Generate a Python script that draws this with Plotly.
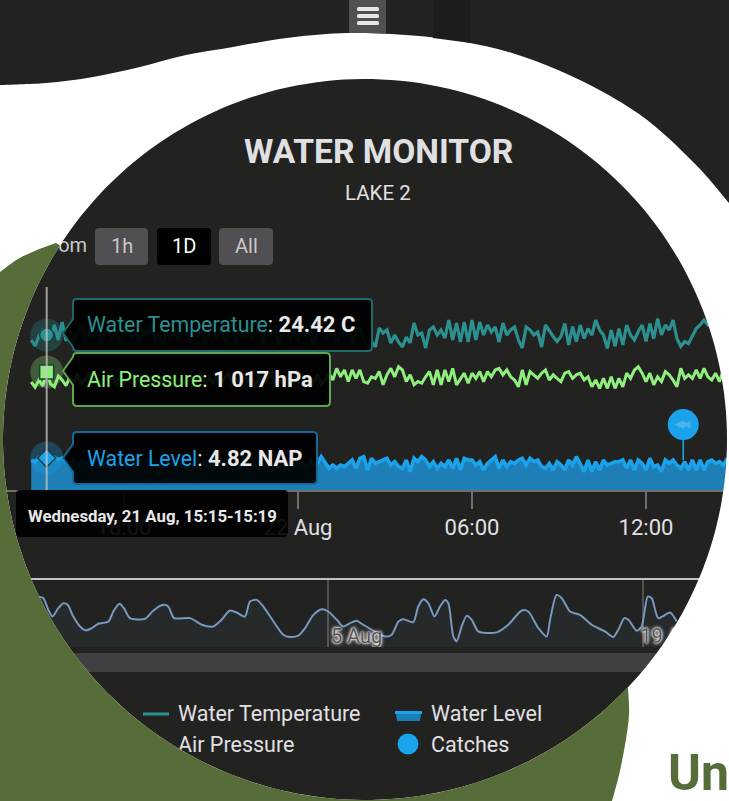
import numpy as np
import pandas as pd
import plotly.graph_objects as go

# ---------- data ----------
TITLE = "WATER MONITOR"
SUBTITLE = "LAKE 2"
series_start = "2024-08-21 14:48"
step = "8min"
tick_vals = ["2024-08-21 18:00", "2024-08-22 00:00", "2024-08-22 06:00", "2024-08-22 12:00"]
tick_text = ["18:00", "22 Aug", "06:00", "12:00"]

water_temperature = [
    24.32, 24.20, 24.40, 24.52, 24.42, 24.32, 24.62, 24.32, 24.68,
    24.30, 24.55, 24.25, 24.48, 24.60, 24.28, 24.50, 24.35, 24.62, 24.22, 24.45,
    24.58, 24.30, 24.52, 24.24, 24.42, 24.64, 24.36, 24.50, 24.26, 24.56, 24.40,
    24.62, 24.28, 24.46, 24.20, 24.52, 24.34, 24.60, 24.30, 24.44, 24.66, 24.26,
    24.50, 24.38, 24.58, 24.22, 24.48, 24.62, 24.32, 24.54, 24.28, 24.42, 24.60,
    24.24, 24.50, 24.36, 24.64, 24.30, 24.46, 24.56, 24.26, 24.52, 24.40, 24.62,
    24.20, 24.44, 24.58, 24.34, 24.50, 24.28, 24.60, 24.38, 24.54, 24.22, 24.48,
    24.64, 24.30, 24.42, 24.56, 24.26, 24.52, 24.36, 24.60, 24.24, 24.46, 24.58,
    24.32, 24.18, 24.30,
    24.18, 24.56, 24.46, 24.52, 24.26, 24.42, 24.28, 24.18, 24.38, 24.26, 24.66,
    24.42, 24.46, 24.16, 24.52, 24.58, 24.42, 24.52, 24.36, 24.72, 24.32, 24.66,
    24.28, 24.68, 24.28, 24.72, 24.32, 24.68, 24.42, 24.62, 24.48, 24.58, 24.28,
    24.66, 24.42, 24.52, 24.58, 24.32, 24.16, 24.58, 24.52, 24.42, 24.48, 24.18,
    24.62, 24.49, 24.39, 24.29, 24.39, 24.65, 24.22, 24.59, 24.29, 24.62, 24.35,
    24.55, 24.42, 24.72, 24.52, 24.42, 24.15, 24.52, 24.19, 24.55, 24.22, 24.62,
    24.42, 24.32, 24.49, 24.62, 24.29, 24.65, 24.35, 24.75, 24.42, 24.62, 24.52,
    24.72, 24.35, 24.19, 24.29, 24.25, 24.39, 24.55, 24.62, 24.72, 24.62, 24.69,
    24.52, 24.15, 24.52, 24.12, 24.35, 24.15, 24.52, 24.69,
]

air_pressure = [
    1014.5, 1013.2, 1015.0, 1013.5, 1017.0, 1014.0, 1013.3, 1016.0, 1015.0,
    1013.6, 1015.8, 1014.2, 1016.6, 1013.8, 1015.2, 1016.9, 1014.0, 1015.5, 1013.4,
    1016.2, 1014.6, 1015.9, 1013.7, 1016.8, 1014.4, 1015.0, 1016.4, 1013.9, 1015.6,
    1014.1, 1016.7, 1013.5, 1015.3, 1016.1, 1014.3, 1015.7, 1013.6, 1016.5, 1014.8,
    1015.1, 1013.8, 1016.3, 1014.5, 1015.9, 1016.8, 1013.7, 1015.4, 1014.2, 1016.0,
    1013.9, 1015.6, 1016.6, 1014.1, 1015.2, 1013.5, 1016.4, 1014.7, 1015.8, 1013.6,
    1016.2, 1014.4, 1015.0, 1016.9, 1013.8, 1015.5, 1014.0, 1016.1, 1013.4, 1015.7,
    1014.6, 1016.5, 1013.7, 1015.3, 1014.2, 1016.3, 1013.9, 1015.1, 1016.7,
    1015.0, 1017.9, 1015.8, 1017.5, 1014.6, 1017.5, 1015.4, 1017.5, 1014.6, 1014.2,
    1015.8, 1015.4, 1017.1, 1013.8, 1016.3, 1017.9, 1015.8, 1018.3, 1017.5, 1014.6,
    1016.3, 1013.8, 1014.6, 1014.2, 1015.8, 1017.1, 1013.8, 1017.5, 1013.8, 1017.5,
    1014.6, 1017.9, 1013.8, 1015.4, 1016.7, 1014.2, 1016.7, 1015.4, 1017.1, 1014.6,
    1017.1, 1015.8, 1017.5, 1017.9, 1016.3, 1017.5, 1015.8, 1015.0, 1013.3, 1017.5,
    1013.8, 1017.1, 1016.3, 1015.4, 1016.7,
    1017.5, 1015.0, 1016.3, 1015.4, 1014.6, 1016.7, 1017.1, 1015.4, 1016.3, 1016.7,
    1015.0, 1015.8, 1013.3, 1015.0, 1012.9, 1015.4, 1012.9, 1015.8, 1012.9, 1015.4,
    1013.3, 1016.7, 1015.4, 1017.5, 1018.3, 1016.7, 1014.6, 1016.7, 1013.8, 1015.8,
    1014.6, 1017.1, 1016.3, 1015.0, 1013.3, 1017.9, 1015.4, 1016.3, 1015.4, 1017.5,
    1015.4, 1017.9, 1015.8, 1015.0, 1016.7, 1014.6, 1017.5, 1015.4, 1016.3, 1017.9,
    1015.0, 1016.7, 1015.4, 1014.6, 1013.8, 1016.7, 1014.6, 1015.4,
]

water_level = [
    4.52, 4.20, 4.90, 4.70, 4.82, 4.50, 4.90, 4.60, 4.80,
    4.10, 3.60, 4.40, 3.30, 4.70, 3.90, 4.20, 3.50, 4.80, 3.70, 4.50,
    3.20, 4.30, 3.80, 4.90, 3.40, 4.10, 4.60, 3.60, 4.40, 3.10, 4.70,
    3.90, 4.30, 3.50, 4.80, 3.70, 4.20, 3.30, 4.50, 3.80, 4.90, 3.40,
    4.00, 4.60, 3.60, 4.30, 3.20, 4.70, 3.90, 4.40, 3.50, 4.80, 3.70,
    4.10, 3.30, 4.50, 3.80, 4.60, 3.40, 4.20, 4.90, 3.60, 4.30, 3.10,
    4.70, 3.90, 4.40, 3.50, 4.80, 3.70, 4.20, 3.30, 4.50, 3.80, 4.00,
    5.02, 4.01, 3.26, 3.76, 3.26, 3.76, 3.51, 4.01, 4.52, 3.26, 4.77,
    5.02, 3.01, 4.77, 4.01, 4.26, 4.52, 4.77, 3.76, 4.26, 3.51, 3.26,
    4.52, 2.76, 4.77, 4.26, 5.02, 4.52, 3.51, 4.26, 3.26, 4.01, 3.51,
    4.52, 3.26, 4.77, 3.01, 4.77, 4.52, 4.52, 3.76, 4.26, 3.01, 4.01,
    4.52, 5.02, 3.26, 4.52, 3.51, 4.26, 4.01,
    4.52, 4.77, 3.76, 4.77, 4.26, 4.52, 3.51, 3.26, 4.01, 3.01, 4.26,
    3.76, 3.01, 4.52, 3.76, 5.02, 4.01, 2.76, 4.52, 2.76, 4.26, 3.01,
    4.52, 3.76, 4.01, 4.26, 4.26, 4.52, 3.26, 4.52, 3.01, 4.52, 4.01,
    3.01, 4.77, 3.51, 3.76, 2.76, 4.52, 4.01, 4.52, 3.76, 3.26, 4.26,
    3.01, 4.52, 3.01, 4.52, 3.01, 4.26, 4.52, 4.01, 4.26, 3.76, 4.77,
]

catch_time = ["2024-08-22 13:17"]
catch_level = [4.52]
catch_flag = [9.85]

nav_origin = "2024-08-05"
nav_days = [
    -12.87, -12.65, -12.43, -12.24, -11.99, -11.76, -11.57, -11.32, -11.02, -10.76, -10.50,
    -10.21, -9.76, -9.54, -9.27, -9.07, -8.80, -8.13, -7.76, -7.32, -7.10, -6.84, -6.13,
    -5.61, -5.10, -4.73, -4.36, -4.06, -3.69, -3.47, -3.17, -2.87, -1.99, -1.69, -1.32,
    -1.02, -0.65, -0.28, 0.01, 0.39, 0.68, 0.98, 1.27, 1.57,
    2.53, 2.83, 3.13, 3.35, 3.79, 4.01, 4.24, 4.46, 4.73, 4.98, 5.20, 5.35, 5.57, 5.72,
    5.94, 6.16, 6.39, 6.68, 7.50, 8.01, 8.61, 8.90, 9.35, 9.72, 9.87, 10.16, 10.39, 10.76,
    11.20, 11.72, 12.31, 12.68, 12.90, 13.17, 13.35, 13.72, 13.94, 14.21, 14.39, 14.68,
    15.20, 15.50,
]
nav_values = [
    24.52, 24.28, 22.54, 21.55, 22.79, 23.53, 23.29, 21.55, 20.07, 19.48, 19.82,
    20.47, 20.81, 22.30, 23.44, 22.79, 21.31, 21.21, 22.45, 23.29, 23.04, 21.31, 21.31,
    20.32, 20.07, 21.06, 22.45, 22.15, 21.55, 23.78, 24.03, 23.04, 18.83, 18.49, 18.68,
    19.82, 21.80, 22.64, 22.30, 21.06, 20.07, 20.56, 20.91, 20.32,
    18.58, 18.83, 20.81, 21.16, 20.71, 23.04, 24.13, 23.53, 21.55, 23.04, 24.03, 23.53, 18.58, 17.84,
    20.07, 21.65, 21.06, 19.33, 19.18, 20.32, 22.45, 22.30, 19.82, 18.58, 21.06, 24.77, 24.28, 22.30,
    21.80, 20.32, 19.33, 18.49, 19.57, 21.31, 21.06, 19.43, 20.07, 24.52, 24.28, 21.31,
    22.15, 20.81,
]
nav_ticks = ["2024-08-05", "2024-08-19"]
nav_tick_text = ["5 Aug", "19 Aug"]

# ---------- style ----------
W, H = 729, 801
DARK = "#222220"
GREEN = "#566d3a"
TEAL = "#2b908f"
LIME = "#90ee7e"
BLUE = "#1aa3ea"
BLUE_FILL = "#1d7fb5"
TEXT = "#e0e0e3"
FONT = "Roboto"
CX, CY, RX, RY = 365.0, 439.5, 362.0, 360.5


def ydom(top, bottom):
    return [1 - bottom / H, 1 - top / H]


def smooth(pts):
    """Catmull-Rom through the outline points, as an SVG path fragment."""
    out = f"L{pts[0][0]},{pts[0][1]}"
    for i in range(len(pts) - 1):
        p0 = pts[max(i - 1, 0)]
        p1, p2 = pts[i], pts[i + 1]
        p3 = pts[min(i + 2, len(pts) - 1)]
        c1 = (p1[0] + (p2[0] - p0[0]) / 6, p1[1] + (p2[1] - p0[1]) / 6)
        c2 = (p2[0] - (p3[0] - p1[0]) / 6, p2[1] - (p3[1] - p1[1]) / 6)
        out += f" C{c1[0]:.1f},{c1[1]:.1f} {c2[0]:.1f},{c2[1]:.1f} {p2[0]},{p2[1]}"
    return out


def arc(a0, a1, n=160):
    a = np.radians(np.linspace(a0, a1, n))
    return " ".join(f"L{CX + RX * np.cos(t):.1f},{CY + RY * np.sin(t):.1f}" for t in a)


def ang(x, y):
    return np.degrees(np.arctan2((y - CY) / RY, (x - CX) / RX)) % 360


def box(x0, y0, x1, y1, r=4):
    return (f"M{x0 + r},{y0} L{x1 - r},{y0} Q{x1},{y0} {x1},{y0 + r} L{x1},{y1 - r} Q{x1},{y1} {x1 - r},{y1} "
            f"L{x0 + r},{y1} Q{x0},{y1} {x0},{y1 - r} L{x0},{y0 + r} Q{x0},{y0} {x0 + r},{y0} Z")


def tip_box(x0, y0, x1, y1, tx, ty, r=4):
    return (f"M{x0 + r},{y0} L{x1 - r},{y0} Q{x1},{y0} {x1},{y0 + r} L{x1},{y1 - r} Q{x1},{y1} {x1 - r},{y1} "
            f"L{x0 + r},{y1} Q{x0},{y1} {x0},{y1 - r} L{x0},{ty + 14} L{tx},{ty} L{x0},{ty - 14} "
            f"L{x0},{y0 + r} Q{x0},{y0} {x0 + r},{y0} Z")


shapes = []


def add(path, fill, line=None, lw=0):
    shapes.append(dict(type="path", path=path, xref="x3", yref="y5", layer="above",
                       fillcolor=fill, line=dict(color=line or "rgba(0,0,0,0)", width=lw)))


# scrollbar and legend keys sit under the mask
add(f"M0,653 L{W},653 L{W},672 L0,672 Z", "#404043")
add("M143,712.5 L169,712.5 L169,715.5 L143,715.5 Z", TEAL)
add("M143,743.5 L169,743.5 L169,746.5 L143,746.5 Z", LIME)
add("M395,711 L422,711 L422,714 L395,714 Z", BLUE)
add("M396,714 L421,714 L420,721 L397,721 Z", BLUE_FILL)

# page around the circular chart (white sheet with a hole)
ring = f"M0,0 L{W},0 L{W},{H} L0,{H} Z M{CX + RX},{CY} " + arc(360, 0, 240) + " Z"
add(ring, "#ffffff")

# green blob behind the circle
gA, gB = ang(56, 243), ang(628, 688)
green = ("M0,272 " + smooth([(0, 272), (18, 259), (37, 250), (56, 243)]) + " " + arc(gA, gB, 160) + " "
         + smooth([(628, 688), (629, 715), (625, 745), (619, 775), (612, 801)]) + f" L0,{H} Z")
add(green, GREEN)

# dark wave at the top
wave = [(0, 85), (46, 83), (93, 77), (140, 67), (186, 55), (233, 47), (279, 39), (326, 34), (365, 33),
        (419, 36), (465, 42), (512, 53), (558, 70), (605, 93), (651, 123), (698, 167), (729, 203)]
add("M0,0 L729,0 L729,203 " + smooth(wave[::-1]) + " Z", DARK)
add("M433,0 L471,0 L471,43 L433,38 Z", "#1c1c1a")
add("M349,0 L386,0 L386,33 L349,33 Z", "#505053")
for yb in (9, 16, 23):
    add(box(357, yb - 2, 379, yb + 2, 1.5), "#e6e6e6")

# range buttons
add(box(95, 228, 148, 265), "#505053")
add(box(157, 228, 211, 265), "#000000")
add(box(219, 228, 273, 265), "#505053")

# tooltips
hover_time = "2024-08-21 15:20"
shapes.append(dict(type="line", xref="x", yref="y5", x0=hover_time, x1=hover_time,
                   y0=287, y1=490, layer="above", line=dict(color="rgba(200,200,200,0.75)", width=2)))
add(tip_box(73, 299, 372, 351, 63, 333), "rgba(0,0,0,0.93)", "#1e6a6a", 2)
add(tip_box(73, 353, 330, 406, 63, 371), "rgba(0,0,0,0.93)", "#5fa652", 2)
add(tip_box(73, 432, 317, 484, 63, 458), "rgba(0,0,0,0.93)", "#14699a", 2)
add(box(16, 490, 288, 537), "rgba(0,0,0,0.92)")


def note(x, y, text, size=21, color=TEXT, anchor="left", bold=False):
    t = f"<b>{text}</b>" if bold else text
    return dict(x=x, y=y, xref="x3", yref="y5", text=t, showarrow=False, xanchor=anchor, yanchor="middle",
                font=dict(family=FONT, size=size, color=color), borderpad=0)


def tip_text(y, label, col, value):
    return note(86, y, f'<span style="color:{col};font-size:21.3px">{label}</span>: <b>{value}</b>', 22, "#e8e8e8")


annotations = [
    note(378, 151, TITLE, 33.6, TEXT, "center", True),
    note(378, 193, SUBTITLE, 20.5, TEXT, "center"),
    note(121.5, 246, "1h", 20, "#c8c8cc", "center"),
    note(184, 246, "1D", 20, "#ffffff", "center"),
    note(246, 246, "All", 20, "#c8c8cc", "center"),
    tip_text(324, "Water Temperature", TEAL, "24.42 C"),
    tip_text(379, "Air Pressure", LIME, "1 017 hPa"),
    tip_text(458, "Water Level", BLUE, "4.82 NAP"),
    note(152, 516, "Wednesday, 21 Aug, 15:15-15:19", 16.8, "#e8e8e8", "center", True),
    note(667, 773, "Un", 50, GREEN, "left", True),
]

# ---------- traces ----------
fig = go.Figure()
t = pd.date_range(series_start, periods=max(len(water_temperature), len(air_pressure), len(water_level)), freq=step)
hover = t[4]

fig.add_trace(go.Scatter(x=t[:len(water_temperature)], y=water_temperature, name="Water Temperature", mode="lines",
                         line=dict(color=TEAL, width=3.2), xaxis="x", yaxis="y"))
fig.add_trace(go.Scatter(x=t[:len(air_pressure)], y=air_pressure, name="Air Pressure", mode="lines",
                         line=dict(color=LIME, width=3), xaxis="x", yaxis="y2"))
fig.add_trace(go.Scatter(x=t[:len(water_level)], y=water_level, name="Water Level", mode="lines", fill="tozeroy",
                         fillcolor=BLUE_FILL, line=dict(color=BLUE, width=3.6), xaxis="x", yaxis="y3"))

# hover markers with halos
for yvals, ax, col, sym, size in [(water_temperature, "y", TEAL, "circle", 14),
                                  (air_pressure, "y2", LIME, "square", 14),
                                  (water_level, "y3", BLUE, "diamond", 14)]:
    fig.add_trace(go.Scatter(x=[hover], y=[yvals[4]], mode="markers", xaxis="x", yaxis=ax, showlegend=False,
                             marker=dict(size=33, color=col, opacity=0.28)))
    fig.add_trace(go.Scatter(x=[hover], y=[yvals[4]], mode="markers", xaxis="x", yaxis=ax, showlegend=False,
                             marker=dict(size=size, color=col, symbol=sym, line=dict(color="#1f3f3f", width=1.5))))

# catches flag
flag_t = pd.to_datetime(catch_time)
fig.add_trace(go.Scatter(x=[flag_t[0], flag_t[0]], y=[catch_level[0], catch_flag[0]], mode="lines", name="Catches",
                         line=dict(color=BLUE, width=1.6), xaxis="x", yaxis="y3"))
fig.add_trace(go.Scatter(x=flag_t, y=catch_flag, mode="markers", showlegend=False, xaxis="x", yaxis="y3",
                         marker=dict(size=31, color=BLUE)))
fig.add_trace(go.Scatter(x=flag_t - pd.Timedelta(minutes=2), y=catch_flag, mode="markers", showlegend=False,
                         xaxis="x", yaxis="y3", marker=dict(size=11, color="#4fb3ec", symbol="diamond-wide")))
fig.add_trace(go.Scatter(x=flag_t + pd.Timedelta(minutes=11), y=catch_flag, mode="markers", showlegend=False,
                         xaxis="x", yaxis="y3", marker=dict(size=7, color="#4fb3ec", symbol="triangle-left")))

# navigator
nav_t = pd.Timestamp(nav_origin) + pd.to_timedelta(nav_days, unit="D")
fig.add_trace(go.Scatter(x=nav_t, y=nav_values, mode="lines", fill="tozeroy", name="Navigator",
                         fillcolor="rgba(119,152,191,0.07)", line=dict(color="#7798BF", width=2, shape="spline", smoothing=0.7),
                         xaxis="x2", yaxis="y4"))
fig.add_trace(go.Scatter(x=pd.to_datetime(nav_ticks) + pd.Timedelta(days=1.27), y=[18.4, 18.4], mode="text", text=nav_tick_text,
                         showlegend=False, textposition="middle center", xaxis="x2", yaxis="y4",
                         textfont=dict(family=FONT, size=20, color="#555555",
                                       shadow="0 0 2px #ffffff, 0 0 3px #ffffff, 0 0 4px #ffffff")))


# page-space text that the circle clips: drawn under the mask
def page_text(x, y, text, size=21.5, color=TEXT):
    fig.add_trace(go.Scatter(x=[x], y=[y], mode="text", text=[text], textposition="middle right", showlegend=False,
                             xaxis="x3", yaxis="y5", textfont=dict(family=FONT, size=size, color=color)))


page_text(35, 247, "Zoom", 20, "#c8c8cc")
page_text(178, 716, "Water Temperature")
page_text(178, 747, "Air Pressure")
page_text(431, 716, "Water Level")
page_text(431, 747, "Catches")
fig.add_trace(go.Scatter(x=[408], y=[744], mode="markers", showlegend=False, xaxis="x3", yaxis="y5",
                         marker=dict(size=21, color=BLUE)))

# ---------- layout ----------
hidden = dict(visible=False, fixedrange=True)
main_dom = ydom(290, 490)
fig.update_layout(
    width=W, height=H, autosize=False, margin=dict(l=0, r=0, t=0, b=0),
    paper_bgcolor=DARK, plot_bgcolor="rgba(0,0,0,0)", showlegend=False,
    font=dict(family=FONT, color=TEXT), hovermode=False, shapes=shapes, annotations=annotations,
    xaxis=dict(type="date", domain=[0, 1], range=["2024-08-21 13:43:25", "2024-08-22 14:51:43"], anchor="y",
               tickmode="array", tickvals=tick_vals, ticktext=tick_text, ticks="outside", ticklen=17, tickwidth=2,
               tickcolor="#707073", showline=True, linecolor="#707073", linewidth=2, showgrid=False, zeroline=False,
               tickfont=dict(family=FONT, size=22, color=TEXT)),
    yaxis=dict(domain=main_dom, range=[24.42 - (490 - 335) / 50, 24.42 + (335 - 290) / 50], **hidden),
    yaxis2=dict(domain=main_dom, overlaying="y", anchor="x", range=[1017 - (490 - 372) / 4, 1017 + (372 - 290) / 4], **hidden),
    yaxis3=dict(domain=main_dom, overlaying="y", anchor="x", range=[0, 200 / 6.64], **hidden),
    xaxis2=dict(type="date", domain=[0, 1], range=["2024-07-21 10:08", "2024-08-22 19:44"], anchor="y4", side="top",
                tickmode="array", tickvals=nav_ticks, ticktext=nav_tick_text, showticklabels=False, ticks="",
                showgrid=True, gridcolor="#505053", gridwidth=1.5, showline=True, linecolor="#c4c4c4", linewidth=2, zeroline=False),
    yaxis4=dict(domain=ydom(580, 647), range=[17, 27], anchor="x2", **hidden),
    xaxis3=dict(domain=[0, 1], range=[0, W], anchor="y5", **hidden),
    yaxis5=dict(domain=[0, 1], range=[H, 0], anchor="x3", **hidden),
)

fig.write_html("out.html", config=dict(displayModeBar=False),
               post_script="document.body.style.margin='0';document.documentElement.style.overflow='hidden';")
